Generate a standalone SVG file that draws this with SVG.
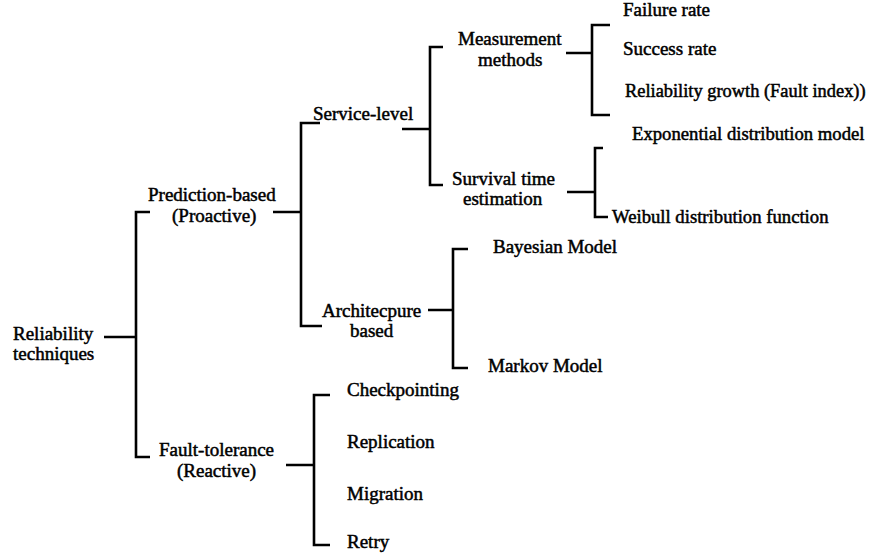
<svg xmlns="http://www.w3.org/2000/svg" width="880" height="558" viewBox="0 0 880 558">
<style>
text{font-family:'Liberation Serif','Times New Roman',serif;font-size:19px;fill:#000;stroke:#000;stroke-width:0.5px}
.c path{fill:none;stroke:#000;stroke-width:2.6}
</style>
<rect width="880" height="558" fill="#fff"/>
<g class="c" id="connectors">
<path d="M104,337H136M150,212H136V457H150"/>
<path d="M273,212H301M320,123H301V326H322"/>
<path d="M286,465H314M330,395H314V545H330"/>
<path d="M402,129H430M443,47H430V185H443"/>
<path d="M428,310H453M468,249H453V368H468"/>
<path d="M566,53H592M610,25H592V115H610"/>
<path d="M567,192H595M603,148H595V217H608"/>
</g>
<g id="n-root"><text x="13" y="340">Reliability</text><text x="13" y="360">techniques</text></g>
<g id="n-pred"><text x="148" y="201">Prediction-based</text><text x="172" y="222">(Proactive)</text></g>
<g id="n-fault"><text x="159" y="456">Fault-tolerance</text><text x="177" y="477">(Reactive)</text></g>
<g id="n-service"><text x="313" y="120">Service-level</text></g>
<g id="n-arch"><text x="322" y="317">Architecpure</text><text x="350" y="337">based</text></g>
<g id="n-measure"><text x="458" y="45">Measurement</text><text x="478" y="66">methods</text></g>
<g id="n-survival"><text x="452" y="185">Survival time</text><text x="463" y="205">estimation</text></g>
<g id="n-bayes"><text x="493" y="253">Bayesian Model</text></g>
<g id="n-markov"><text x="488" y="372">Markov Model</text></g>
<g id="n-check"><text x="347" y="396">Checkpointing</text></g>
<g id="n-repl"><text x="347" y="448">Replication</text></g>
<g id="n-migr"><text x="347" y="500">Migration</text></g>
<g id="n-retry"><text x="347" y="548">Retry</text></g>
<g id="n-failure"><text x="623" y="16">Failure rate</text></g>
<g id="n-success"><text x="623" y="55">Success rate</text></g>
<g id="n-growth"><text x="625" y="97" style="font-size:18.4px">Reliability growth (Fault index))</text></g>
<g id="n-expo"><text x="632" y="140" style="font-size:18.7px">Exponential distribution model</text></g>
<g id="n-weibull"><text x="612" y="223" style="font-size:18.7px">Weibull distribution function</text></g>
</svg>
